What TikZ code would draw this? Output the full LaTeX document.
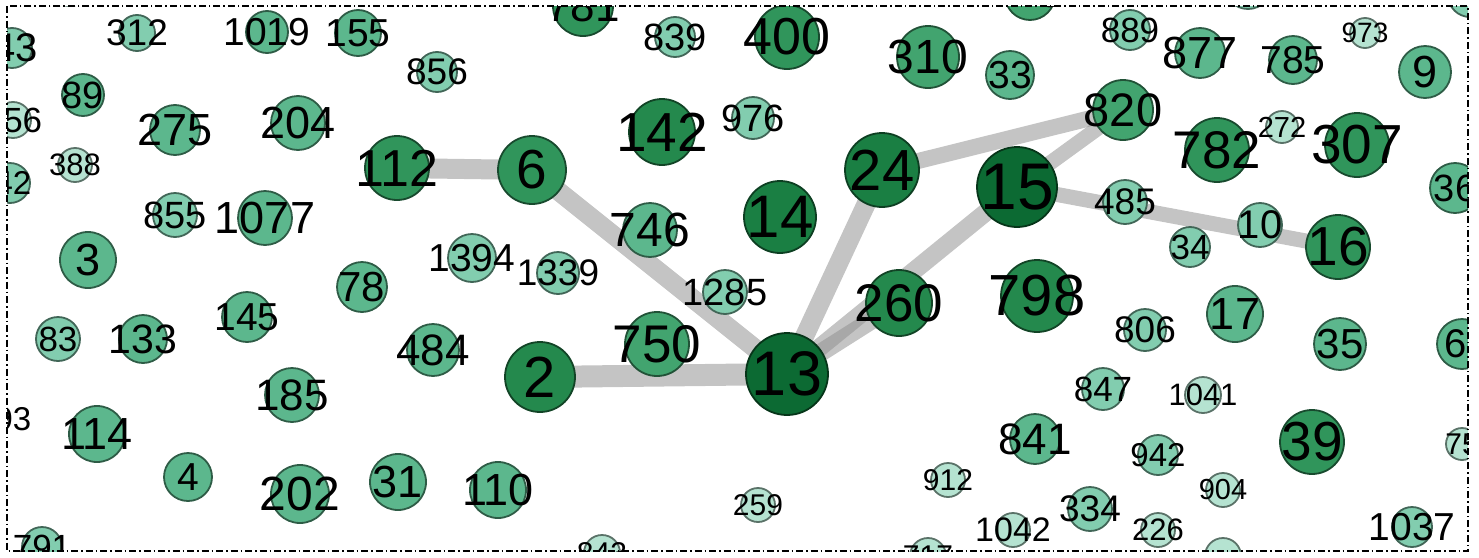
\documentclass[tikz,border=0pt]{standalone}
\usepackage{fontspec}
\setmainfont{Liberation Sans}
\usetikzlibrary{backgrounds}
\definecolor{c1}{HTML}{0C6A33}
\definecolor{c2}{HTML}{1A7F43}
\definecolor{c3}{HTML}{24894D}
\definecolor{c4}{HTML}{30955B}
\definecolor{c5}{HTML}{42A46F}
\definecolor{c6}{HTML}{5CB78D}
\definecolor{c7}{HTML}{82CDAF}
\definecolor{c8}{HTML}{B5E3D1}
\definecolor{edgegray}{HTML}{8F8F8F}
\newcommand\fs[1]{\fontsize{#1}{#1}\selectfont}
\tikzset{
  vx/.style={circle, inner sep=0pt, fill=#1, draw=#1!50!black, line width=1.8pt},
  edge/.style={draw=edgegray, draw opacity=0.53, line cap=butt},
  frame/.style={line width=1.3pt, dash pattern=on 7pt off 3pt on 1.5pt off 3pt},
}
% \V[label opts]{label}{x}{y}{r}{colour}{font size}
\newcommand\V[7][]{\node[vx=#6, minimum size={2*#5}, label={[font=\fs{#7},inner sep=0pt,#1]center:#2}] (n#2) at (#3,#4) {};}
\begin{document}
\begin{tikzpicture}[x=1pt,y=-1pt]
\useasboundingbox (0,0) rectangle (1479,557);
\begin{scope}
\clip (7,6) rectangle (1468,551);
% partial nodes at the frame
\V[xshift=4pt]{43}{12}{48}{20}{c7}{40}
\V{156}{13}{120}{18}{c8}{35}
\V[xshift=3pt]{42}{10}{183}{20}{c7}{33}
\V[xshift=25pt]{93}{-12}{419}{18}{c8}{33}
\V{791}{42}{547}{20}{c7}{35}
\V{781}{583}{6}{30}{c4}{44}
\V{473}{1030}{-5}{25}{c5}{36}
\node[vx=c7, minimum size=40] (ptop1) at (70,-14) {};
\node[vx=c7, minimum size=44] (ptop2) at (865,-18) {};
\node[vx=c7, minimum size=48] (ptop3) at (1248,-15) {};
\node[vx=c7, minimum size=44] (ptop4) at (1470,-5) {};
\V{36}{1455}{188}{25}{c6}{38}
\node[vx=c6, minimum size=50, label={[font=\fs{40},inner sep=0pt,xshift=-6pt]center:6}] (n6r) at (1462,344) {};
\V{75}{1462}{444}{16}{c8}{30}
\V{843}{602}{553}{18}{c8}{30}
\V{717}{928}{556}{18}{c8}{30}
\node[vx=c8, minimum size=36] (pbot1) at (1223,556) {};
% left part
\V{312}{137}{33}{18}{c7}{37}
\V{1019}{267}{32}{21}{c6}{39}
\V{155}{358}{33}{23}{c6}{39}
\V{856}{437}{72}{20}{c7}{37}
\V{89}{83}{95}{21}{c6}{38}
\V{275}{175}{130}{25}{c6}{45}
\V{204}{298}{123}{27}{c6}{45}
\V{388}{75}{165}{17}{c8}{31}
\V{112}{397}{168}{32}{c4}{52}
\V{855}{175}{215}{22}{c7}{38}
\V{1077}{265}{218}{27}{c6}{45}
\V{3}{88}{260}{28}{c6}{45}
\V{1394}{472}{258}{24}{c7}{39}
\V{1339}{558}{273}{21}{c7}{37}
\V{78}{362}{287}{25}{c6}{42}
\V{83}{58}{339}{22}{c7}{35}
\V{133}{143}{339}{24}{c6}{41}
\V{145}{247}{317}{25}{c6}{39}
\V{484}{433}{350}{26}{c6}{44}
\V{185}{292}{395}{27}{c6}{44}
\V{114}{97}{434}{28}{c6}{45}
\V{4}{188}{477}{24}{c6}{39}
\V{202}{300}{494}{29}{c6}{48}
\V{31}{398}{482}{28}{c6}{45}
\V{110}{498}{490}{28}{c6}{45}
% middle part
\V{839}{675}{37}{20}{c7}{38}
\V{400}{787}{37}{32}{c4}{52}
\V{310}{928}{57}{31}{c5}{48}
\V{142}{662}{132}{33}{c3}{55}
\V{976}{753}{118}{21}{c7}{38}
\V{6}{532}{170}{34}{c4}{55}
\V{24}{882}{170}{37}{c2}{58}
\V{14}{780}{217}{36}{c2}{60}
\V{746}{650}{230}{27}{c6}{48}
\V{1285}{725}{292}{22}{c7}{38}
\V{260}{899}{303}{33}{c3}{53}
\V{750}{657}{344}{32}{c5}{53}
\V{2}{540}{377}{35}{c3}{58}
\V{13}{787}{374}{41}{c1}{63}
\V{912}{948}{480}{17}{c8}{30}
\V{259}{758}{505}{17}{c8}{30}
% right part
\V{889}{1130}{30}{20}{c7}{35}
\V{33}{1010}{75}{24}{c6}{39}
\V{877}{1200}{53}{25}{c6}{45}
\V{785}{1293}{60}{24}{c6}{39}
\V{973}{1365}{33}{15}{c8}{28}
\V{9}{1425}{72}{26}{c6}{45}
\V{820}{1123}{110}{30}{c5}{47}
\V{782}{1217}{150}{32}{c4}{53}
\V{272}{1282}{127}{16}{c8}{29}
\V{307}{1357}{145}{32}{c4}{55}
\V{15}{1017}{187}{40}{c1}{66}
\V{485}{1125}{202}{22}{c7}{37}
\V{10}{1260}{225}{22}{c7}{40}
\V{34}{1190}{247}{20}{c7}{35}
\V{16}{1338}{247}{32}{c4}{55}
\V{798}{1037}{296}{36}{c3}{58}
\V{806}{1145}{330}{21}{c7}{37}
\V{17}{1235}{314}{28}{c6}{45}
\V{35}{1340}{344}{26}{c6}{42}
\V{847}{1103}{389}{21}{c7}{35}
\V{1041}{1203}{395}{18}{c8}{31}
\V{841}{1035}{439}{25}{c6}{44}
\V{942}{1158}{455}{20}{c7}{33}
\V{39}{1312}{442}{32}{c4}{55}
\V{904}{1223}{490}{17}{c8}{29}
\V{334}{1090}{509}{22}{c7}{37}
\V{1042}{1013}{530}{17}{c8}{34}
\V{226}{1158}{530}{17}{c8}{31}
\V{1037}{1412}{527}{20}{c7}{39}
\end{scope}
\begin{scope}[on background layer]
\draw[edge, line width=20pt] (n112.center) -- (n6.center);
\draw[edge, line width=19pt] (n6.center) -- (n13.center);
\draw[edge, line width=22pt] (n2.center) -- (n13.center);
\draw[edge, line width=19pt] (n13.center) -- (n24.center);
\draw[edge, line width=18pt] (n13.center) -- (n260.center);
\draw[edge, line width=18pt] (n13.center) -- (n15.center);
\draw[edge, line width=16pt] (n24.center) -- (n820.center);
\draw[edge, line width=15pt] (n15.center) -- (n820.center);
\draw[edge, line width=15pt] (n15.center) -- (n16.center);
\end{scope}
\draw[frame] (7,6) rectangle (1468,551);
\end{tikzpicture}
\end{document}
